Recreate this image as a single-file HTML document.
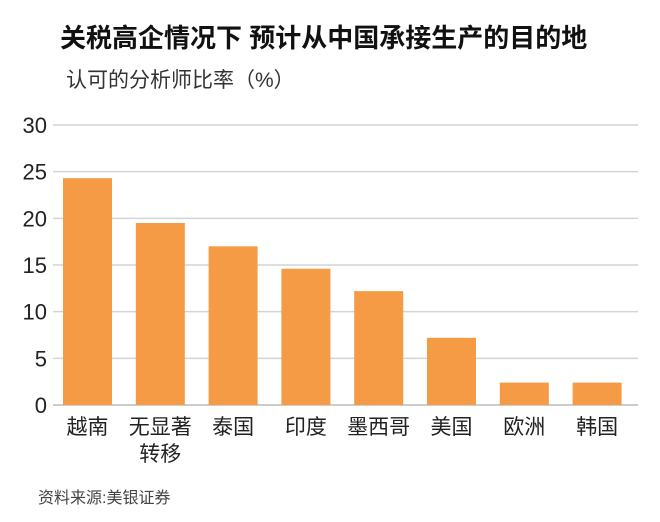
<!DOCTYPE html>
<html><head><meta charset="utf-8"><style>
body{margin:0;background:#fff;}
svg text{font-family:"Liberation Sans","Noto Sans CJK SC",sans-serif;}
</style></head><body>
<svg id="chart" width="660" height="517" viewBox="0 0 660 517">
<rect width="660" height="517" fill="#fff"/>
<text x="60" y="47" font-size="26" font-weight="bold" fill="#111">关税高企情况下 预计从中国承接生产的目的地</text>
<text x="66" y="87" font-size="21" fill="#333">认可的分析师比率（%）</text>
<g id="grid"></g><g id="bars"></g><g id="labels"></g>
<text x="38" y="503" font-size="16" fill="#444">资料来源:美银证券</text>
</svg>
<script>
const categories=[["越南"],["无显著","转移"],["泰国"],["印度"],["墨西哥"],["美国"],["欧洲"],["韩国"]];
const values=[24.3,19.5,17,14.6,12.2,7.2,2.4,2.4];
const ticks=[0,5,10,15,20,25,30];
const NS="http://www.w3.org/2000/svg";
const y0=405,y30=125,xL=53,xR=638,x0=63,step=72.8,bw=49;
function y(v){return y0-(v/30)*(y0-y30);}
function x(i){return x0+i*step;}
function mk(t,a,p){const e=document.createElementNS(NS,t);for(const k in a)e.setAttribute(k,a[k]);document.getElementById(p).appendChild(e);return e;}
ticks.forEach(t=>{
 const l=mk("line",{x1:xL,x2:xR,y1:y(t),y2:y(t),stroke:t===0?"#bbb":"#d4d4d4","stroke-width":1.5},"grid");
 
 
 const tx=mk("text",{x:47,y:y(t)+8,"font-size":22,"text-anchor":"end",fill:"#222"},"grid");
 tx.textContent=t;
 
 
});
values.forEach((v,i)=>{
 const r=mk("rect",{x:x(i),y:y(v),width:bw,height:y0-y(v),fill:"#F59B45"},"bars");
 
 
 categories[i].forEach((s,j)=>{
  const tx=mk("text",{x:x(i)+bw/2,y:434+j*27,"font-size":21,"text-anchor":"middle",fill:"#222"},"labels");
  tx.textContent=s;
  
  
 });
});
</script>
</body></html>
